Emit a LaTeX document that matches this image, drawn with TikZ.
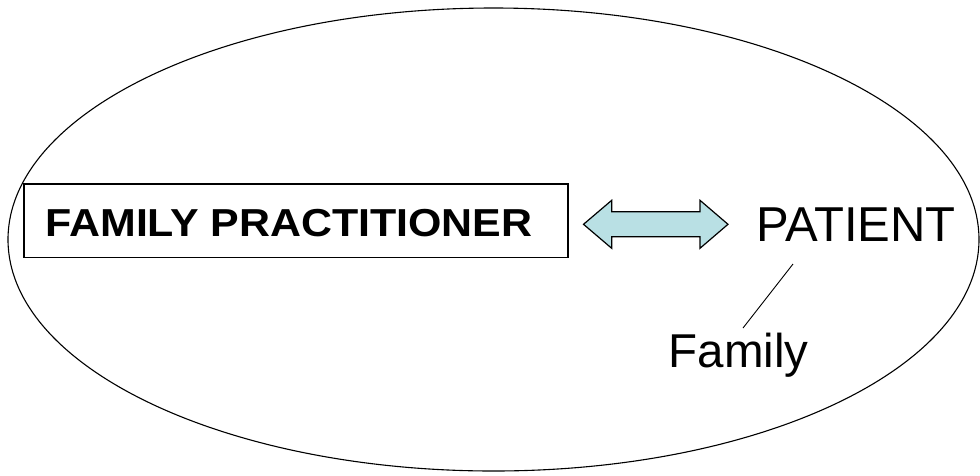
\documentclass[tikz,border=0pt]{standalone}
\usepackage{fontspec}
\setmainfont{Liberation Sans}
\usetikzlibrary{calc}
\definecolor{arrowfill}{RGB}{185,224,228}
\begin{document}
\begin{tikzpicture}[x=1pt,y=-1pt,
  outline/.style={draw=black,line width=1.1pt},
  boxstyle/.style={draw=black,line width=1.2pt,inner sep=0pt},
  lbl/.style={inner sep=0pt,anchor=base},
  arrowshape/.style={draw=black,fill=arrowfill,line width=1.2pt,line join=miter}]
\useasboundingbox (0,0) rectangle (980,475);
\draw[outline] (493.5,239.5) ellipse [x radius=485.5, y radius=231.5];
\node[boxstyle,minimum width=544pt,minimum height=73.5pt] (box) at (296,220.8) {};
\node[lbl] (fp) at (289,236.7) {\scalebox{1.10}[1]{\fontsize{39pt}{44pt}\selectfont\bfseries FAMILY PRACTITIONER}};
\node[lbl] (patient) at (856,241) {\fontsize{49pt}{54pt}\selectfont PATIENT};
\node[lbl] (family) at (738.5,367) {\fontsize{47.5pt}{53pt}\selectfont Family};
\draw[arrowshape] (583.5,224.3) -- (611.7,200.3) -- (611.7,211.8) -- (700,211.8) -- (700,200.3)
  -- (728,224.3) -- (700,248.3) -- (700,236.8) -- (611.7,236.8) -- (611.7,248.3) -- cycle;
\coordinate (ptop) at (793,264);
\coordinate (fbot) at (743,328);
\draw[line width=0.9pt] (ptop) -- (fbot);
\end{tikzpicture}
\end{document}
